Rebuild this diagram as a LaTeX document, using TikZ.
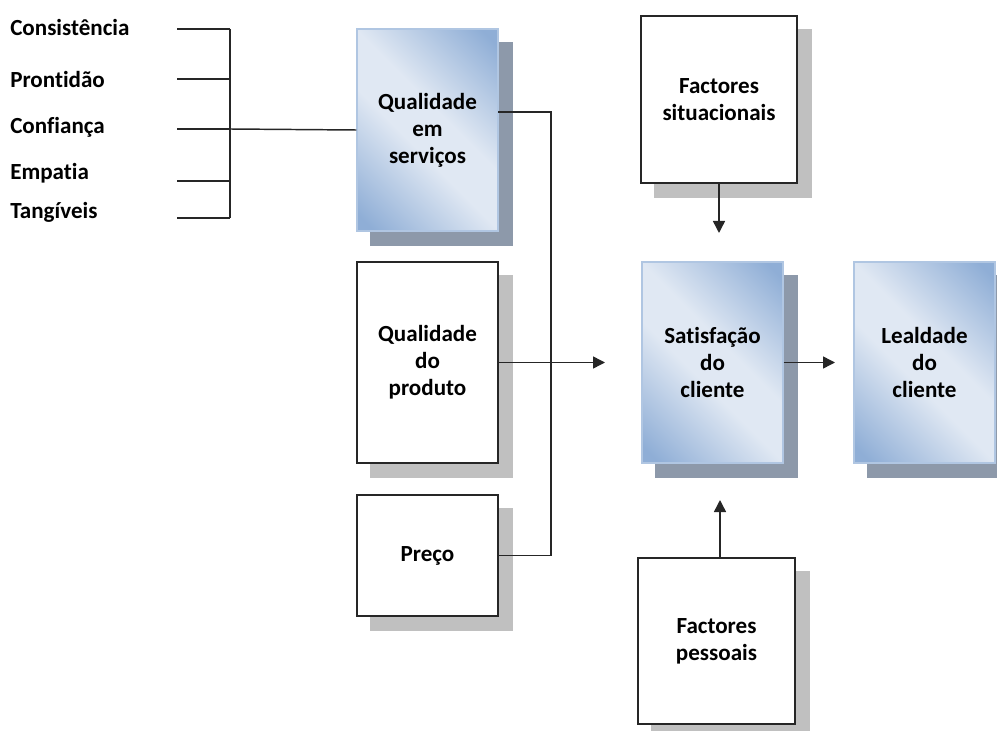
\documentclass[tikz,border=0pt]{standalone}
\usepackage{fontspec}
\setmainfont{Carlito}[Ligatures=NoCommon]
\usetikzlibrary{arrows.meta,backgrounds}

\definecolor{bdark}{RGB}{143,174,214}
\definecolor{blight}{RGB}{224,232,243}
\definecolor{bedge}{RGB}{176,198,226}
\definecolor{shblue}{RGB}{141,153,170}
\definecolor{shgray}{RGB}{192,192,192}

% light blue band along one diagonal, darker towards the other two corners
\pgfdeclareverticalshading{bluediag}{100bp}{%
  color(0bp)=(bdark); color(18bp)=(bdark); color(44bp)=(blight); color(56bp)=(blight);
  color(82bp)=(bdark); color(100bp)=(bdark)}

% offset shadow behind a named box
\newcommand{\boxshadow}[2]{%
  \fill[#2] ([xshift=10.5pt,yshift=-10.5pt]#1.south west) rectangle ([xshift=10.5pt,yshift=-10.5pt]#1.north east);}

\begin{document}
\begin{tikzpicture}[x=0.75pt,y=-0.75pt,
  txt/.style={font=\bfseries\fontsize{17.3}{20.25}\selectfont, align=center},
  lbl/.style={anchor=west, inner sep=0pt, font=\bfseries\fontsize{17.3}{20.25}\selectfont},
  sz/.style 2 args={minimum width=#1*0.75pt, minimum height=#2*0.75pt, inner sep=0pt},
  bluebox/.style={txt, draw=bedge, line width=0.8pt, shading=bluediag, shading angle=-45},
  whitebox/.style={txt, draw=black!85, line width=1.1pt, fill=white},
  wire/.style={draw=black!85, line width=1.1pt},
  arr/.style={wire, -{Triangle[length=9pt,width=9pt]}}]
\useasboundingbox (0,0) rectangle (997,731);

% service-quality attributes
\node[lbl] (a1) at (10,27)  {Consistência};
\node[lbl] (a2) at (10,79)  {Prontidão};
\node[lbl] (a3) at (10,127) {Confiança};
\node[lbl] (a4) at (10,173) {Empatia};
\node[lbl] (a5) at (10,212) {Tangíveis};

% boxes
\node[bluebox, sz={141}{202}] (qs)   at (427.5,130)   {Qualidade\\em\\serviços};
\node[whitebox, sz={141}{201}] (prod) at (427.5,362.5) {Qualidade\\do\\produto};
\node[whitebox, sz={141}{121}] (pr)   at (427.5,555.5) {Preço};
\node[whitebox, sz={156}{167}] (sit)  at (719,99.5)    {Factores\\situacionais};
\node[bluebox, sz={141}{201}] (sat)  at (712.5,362.5) {Satisfação\\do\\cliente};
\node[bluebox, sz={141}{201}] (leal) at (924.5,362.5) {Lealdade\\do\\cliente};
\node[whitebox, sz={157}{166}] (pes)  at (716.5,641)   {Factores\\pessoais};

\begin{scope}[on background layer]
  \boxshadow{qs}{shblue}
  \boxshadow{sat}{shblue}
  \boxshadow{leal}{shblue}
  \boxshadow{prod}{shgray}
  \boxshadow{pr}{shgray}
  \boxshadow{sit}{shgray}
  \boxshadow{pes}{shgray}
\end{scope}

% bracket joining the attributes
\coordinate (l1) at (177,29);  \coordinate (b1) at (230,29);
\coordinate (l2) at (177,79);  \coordinate (b2) at (230,79);
\coordinate (l3) at (177,129); \coordinate (b3) at (230,129);
\coordinate (l4) at (177,181); \coordinate (b4) at (230,181);
\coordinate (l5) at (177,218); \coordinate (b5) at (230,218);
\draw[wire] (l1) -- (b1);
\draw[wire] (l2) -- (b2);
\draw[wire] (l3) -- (b3);
\draw[wire] (l4) -- (b4);
\draw[wire] (l5) -- (b5);
\draw[wire] (b1) -- (b5);
\draw[wire] (b3) -- (qs.west);

% collector line from service quality down to price
\coordinate (qsout) at (498,112);
\coordinate (j1) at (551,112);
\draw[wire] (qsout) -- (j1) |- (pr.east);

% arrows into and out of customer satisfaction
\coordinate (ptip) at (605,362.5);
\draw[arr] (prod.east) -- (ptip);
\coordinate (stip) at (719,233);
\draw[arr] (sit.south) -- (stip);
\coordinate (pstart) at (720,558);
\coordinate (ptip2) at (720,500);
\draw[arr] (pstart) -- (ptip2);
\coordinate (ltip) at (835,362.5);
\draw[arr] (sat.east) -- (ltip);
\end{tikzpicture}
\end{document}
